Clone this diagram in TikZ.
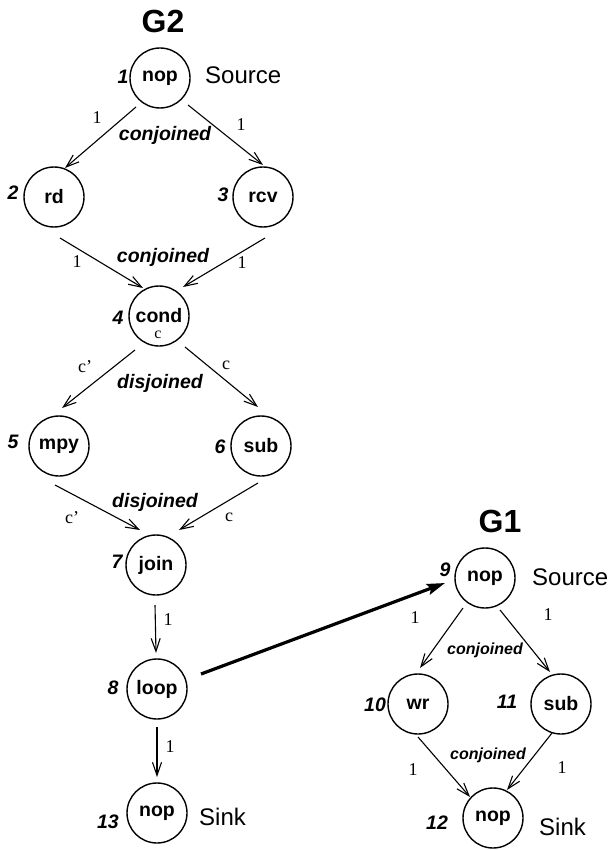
\documentclass[tikz,border=0pt]{standalone}
\usepackage{fontspec}
\setmainfont{Liberation Serif}
\newfontfamily\hv{Liberation Sans}
\usetikzlibrary{arrows.meta,calc}
\tikzset{
 state/.style={circle,draw,line width=1.4pt,minimum size=60pt,inner sep=0pt,font=\hv\bfseries\fontsize{19.5}{22}\selectfont},
 num/.style={font=\hv\bfseries\itshape\fontsize{19.5}{22}\selectfont,inner sep=0pt},
 elab/.style={font=\fontsize{18}{20}\selectfont,inner sep=0pt},
 kind/.style={font=\hv\bfseries\itshape\fontsize{19.5}{22}\selectfont,inner sep=0pt},
 kindsm/.style={font=\hv\bfseries\itshape\fontsize{16}{18}\selectfont,inner sep=0pt},
 role/.style={font=\hv\fontsize{24}{28}\selectfont,inner sep=0pt,anchor=west},
 gtitle/.style={font=\hv\bfseries\fontsize{32}{36}\selectfont,inner sep=0pt},
 arr/.style={line width=1.1pt,-{Straight Barb[length=13pt,width=9pt,line width=1.1pt]}},
 bigarr/.style={line width=3.2pt,-{Stealth[length=18pt,width=11pt,inset=3pt]}},
}
\begin{document}
\begin{tikzpicture}[x=1pt,y=-1pt]
\useasboundingbox (0,0) rectangle (613,850);
% titles
\node[gtitle] (g2) at (163,21) {G2};
\node[gtitle] (g1) at (500,521) {G1};
% nodes
\node[state] (n1) at (160,78) {nop};
\node[state] (n2) at (54,197) {rd};
\node[state] (n3) at (263,197) {rcv};
\node[state] (n4) at (159,316) {cond};
\node[state] (n5) at (59,446) {mpy};
\node[state] (n6) at (261,446) {sub};
\node[state] (n7) at (156,565) {join};
\node[state] (n8) at (157,689) {loop};
\node[state] (n13) at (157,813) {nop};
\node[state] (n9) at (485,578) {nop};
\node[state] (n10) at (418,704) {wr};
\node[state] (n11) at (561,704) {sub};
\node[state] (n12) at (493,818) {nop};
% numbers
\node[num] (k1) at (123,77) {1};
\node[num] (k2) at (13,193) {2};
\node[num] (k3) at (223,195) {3};
\node[num] (k4) at (118,318) {4};
\node[num] (k5) at (13,442) {5};
\node[num] (k6) at (220,447) {6};
\node[num] (k7) at (117,562) {7};
\node[num] (k8) at (113,688) {8};
\node[num] (k13) at (108,822) {13};
\node[num] (k9) at (445,570) {9};
\node[num] (k10) at (375,705) {10};
\node[num] (k11) at (507,702) {11};
\node[num] (k12) at (437,823) {12};
% roles
\node[role] (s2) at (205,75) {Source};
\node[role] (t2) at (199,817) {Sink};
\node[role] (s1) at (532,577) {Source};
\node[role] (t1) at (539,827) {Sink};
% edges G2
\draw[arr] ($(n1)+(-24,29)$) -- ($(n2)+(11,-29)$);
\draw[arr] ($(n1)+(28,27)$) -- ($(n3)+(0,-32)$);
\draw[arr] ($(n2)+(6,41)$) -- ($(n4)+(-16,-28)$);
\draw[arr] ($(n3)+(2,41)$) -- ($(n4)+(24,-29)$);
\draw[arr] ($(n4)+(-24,34)$) -- ($(n5)+(3,-38)$);
\draw[arr] ($(n4)+(26,31)$) -- ($(n6)+(-3,-39)$);
\draw[arr] ($(n5)+(-4,39)$) -- ($(n7)+(-16,-35)$);
\draw[arr] ($(n6)+(-3,37)$) -- ($(n7)+(23,-35)$);
\draw[arr] ($(n7)+(-1,40)$) -- ($(n8)+(-1,-36)$);
\draw[arr] ($(n8)+(0,38)$) -- ($(n13)+(0,-36)$);
% link
\draw[bigarr] ($(n8)+(44,-15)$) -- ($(n9)+(-40,5)$);
% edges G1
\draw[arr] ($(n9)+(-22,30)$) -- ($(n10)+(2,-36)$);
\draw[arr] ($(n9)+(15,32)$) -- ($(n11)+(-11,-32)$);
\draw[arr] ($(n10)+(0,33)$) -- ($(n12)+(-23,-21)$);
\draw[arr] ($(n11)+(-9,29)$) -- ($(n12)+(14,-28)$);
% edge labels G2
\node[elab] (a1) at (97,118) {1};
\node[elab] (a2) at (241,125) {1};
\node[kind] (c1) at (165,135) {conjoined};
\node[elab] (a3) at (77,262) {1};
\node[elab] (a4) at (242,263) {1};
\node[kind] (c2) at (163,257) {conjoined};
\node[elab,font=\fontsize{16}{18}\selectfont] (cc) at (158,335) {c};
\node[elab] (a5) at (85,367) {c’};
\node[elab] (a6) at (226,365) {c};
\node[kind] (d1) at (160,383) {disjoined};
\node[kind] (d2) at (155,502) {disjoined};
\node[elab] (a7) at (72,518) {c’};
\node[elab] (a8) at (229,517) {c};
\node[elab] (a9) at (168,620) {1};
\node[elab] (a10) at (170,747) {1};
% edge labels G1
\node[elab] (b1) at (415,618) {1};
\node[elab] (b2) at (548,615) {1};
\node[kindsm] (c3) at (485,650) {conjoined};
\node[kindsm] (c4) at (488,755) {conjoined};
\node[elab] (b3) at (413,770) {1};
\node[elab] (b4) at (562,768) {1};
\end{tikzpicture}
\end{document}
